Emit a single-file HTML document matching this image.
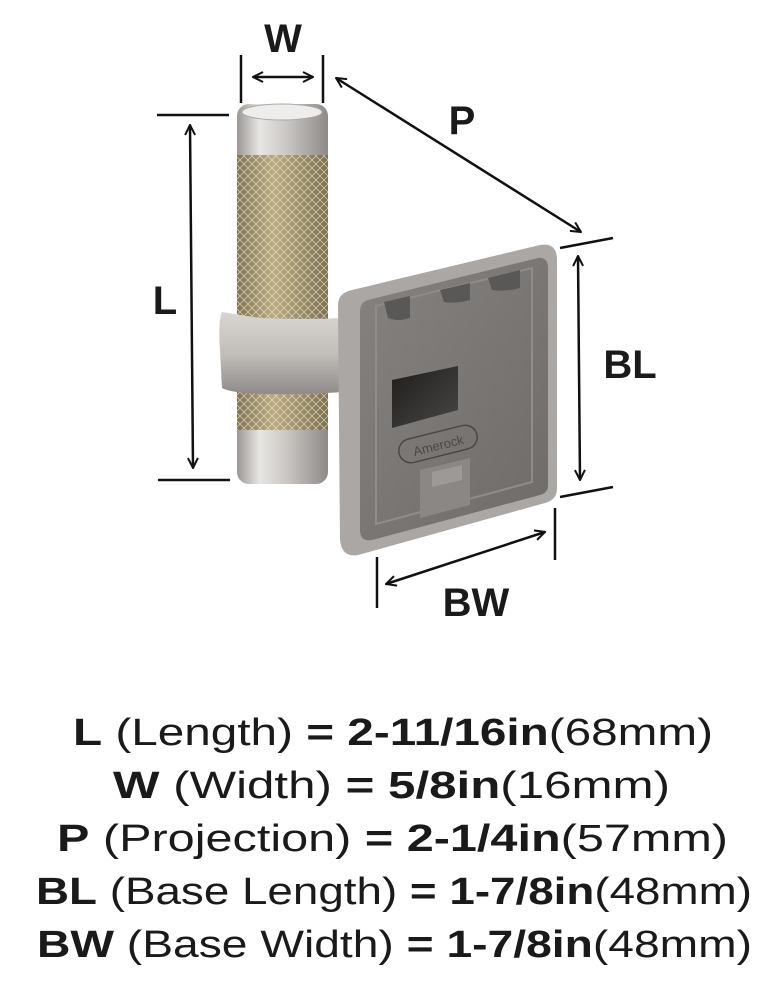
<!DOCTYPE html>
<html><head><meta charset="utf-8"><style>
html,body{margin:0;padding:0;background:#fff;}
svg{display:block;}
text{font-family:"Liberation Sans",sans-serif;fill:#1a1a1a;}
</style></head><body>
<svg width="784" height="990" viewBox="0 0 784 990" xmlns="http://www.w3.org/2000/svg">
<defs>
<linearGradient id="chrome" x1="0" x2="1" y1="0" y2="0">
<stop offset="0" stop-color="#9a9794"/><stop offset="0.25" stop-color="#e8e6e4"/><stop offset="0.55" stop-color="#c9c6c3"/><stop offset="1" stop-color="#8d8a87"/></linearGradient>
<linearGradient id="brass" x1="0" x2="1" y1="0" y2="0">
<stop offset="0" stop-color="#7f7456"/><stop offset="0.4" stop-color="#b9ab82"/><stop offset="1" stop-color="#7a6f52"/></linearGradient>
<pattern id="knurl" width="8" height="8" patternUnits="userSpaceOnUse">
<path d="M0 0L8 8M8 0L0 8" stroke="#efe6c8" stroke-width="0.8"/></pattern>
<linearGradient id="arm" x1="0" x2="0" y1="0" y2="1">
<stop offset="0" stop-color="#d9d6d2"/><stop offset="0.5" stop-color="#c2bfbb"/><stop offset="1" stop-color="#8e8b88"/></linearGradient>
<linearGradient id="plate" x1="0" x2="1" y1="0" y2="1">
<stop offset="0" stop-color="#858280"/><stop offset="1" stop-color="#6e6b69"/></linearGradient>
<linearGradient id="hole" x1="0" x2="1" y1="0" y2="1">
<stop offset="0" stop-color="#1e1d1c"/><stop offset="1" stop-color="#4a4846"/></linearGradient>
<marker id="ah" viewBox="0 0 12 12" refX="11" refY="6" markerWidth="12" markerHeight="12" orient="auto-start-reverse" markerUnits="userSpaceOnUse">
<path d="M1 1L11 6L1 11" fill="none" stroke="#111" stroke-width="2"/></marker>
</defs>

<rect x="237" y="104" width="91" height="380" rx="12" fill="url(#chrome)"/>
<ellipse cx="282" cy="112" rx="40" ry="8" fill="#efedeb" stroke="#aaa"/>
<rect x="237" y="155" width="91" height="275" fill="url(#brass)"/>
<rect x="237" y="155" width="91" height="275" fill="url(#knurl)" opacity="0.7"/>
<path d="M222 312 Q218 320 220 350 L222 388 Q240 398 345 392 L352 350 L345 318 Q300 320 260 318 Z" fill="url(#arm)"/>
<path d="M352 290 L540 245 Q557 242 557 260 L557 488 Q557 500 545 503 L358 555 Q342 558 340 540 L338 305 Q338 293 352 290 Z" fill="#aaa7a4"/>
<path d="M368 300 L538 258 Q548 257 548 268 L548 485 Q548 493 540 495 L372 540 Q360 542 360 530 L360 312 Q360 302 368 300 Z" fill="url(#plate)"/>
<path d="M376 306 L532 268 L532 482 L376 524 Z" fill="none" stroke="#8f8c89" stroke-width="2"/>
<path d="M384 302 L410 296 L410 318 Q398 322 388 318 Z" fill="#5a5856"/>
<path d="M440 290 L470 283 L470 300 Q455 304 444 302 Z" fill="#5a5856"/>
<path d="M488 278 L520 270 L520 288 Q505 292 492 290 Z" fill="#5a5856"/>
<path d="M392 380 L458 366 L458 410 L392 428 Z" fill="url(#hole)"/>
<path d="M420 470 L470 458 L470 505 L420 518 Z" fill="#8a8784"/>
<path d="M432 472 L462 465 L462 480 L432 487 Z" fill="#9c9996"/>
<rect x="398" y="432" width="80" height="24" rx="12" transform="rotate(-14 438 444)" fill="none" stroke="#4a4846" stroke-width="1.5"/>
<text x="438" y="450" font-size="13" text-anchor="middle" transform="rotate(-14 438 444)" style="fill:#4a4846">Amerock</text>

<g stroke="#111" stroke-width="2.5" fill="none">
<line x1="241" y1="55" x2="241" y2="103"/><line x1="323" y1="55" x2="323" y2="103"/>
<line x1="253" y1="77" x2="313" y2="77" marker-start="url(#ah)" marker-end="url(#ah)"/>
<line x1="157" y1="115" x2="229" y2="115"/><line x1="158" y1="480" x2="230" y2="480"/>
<line x1="190" y1="125" x2="193" y2="468" marker-start="url(#ah)" marker-end="url(#ah)"/>
<line x1="336" y1="78" x2="581" y2="232" marker-start="url(#ah)" marker-end="url(#ah)"/>
<line x1="560" y1="248" x2="613" y2="238"/><line x1="560" y1="497" x2="613" y2="487"/>
<line x1="578" y1="256" x2="580" y2="480" marker-start="url(#ah)" marker-end="url(#ah)"/>
<line x1="377" y1="557" x2="377" y2="608"/><line x1="555" y1="508" x2="555" y2="560"/>
<line x1="386" y1="584" x2="545" y2="532" marker-start="url(#ah)" marker-end="url(#ah)"/>
</g>
<g font-size="40" font-weight="bold" text-anchor="middle">
<text x="283" y="52">W</text>
<text x="165" y="314">L</text>
<text x="462" y="134">P</text>
<text x="630" y="378">BL</text>
<text x="476" y="616">BW</text>
</g>

<g font-size="38">
<text x="73" y="745" textLength="640" lengthAdjust="spacingAndGlyphs"><tspan font-weight="bold">L</tspan> (Length) <tspan font-weight="bold">= 2-11/16in</tspan>(68mm)</text>
<text x="113" y="798" textLength="557" lengthAdjust="spacingAndGlyphs"><tspan font-weight="bold">W</tspan> (Width) <tspan font-weight="bold">= 5/8in</tspan>(16mm)</text>
<text x="57" y="851" textLength="671" lengthAdjust="spacingAndGlyphs"><tspan font-weight="bold">P</tspan> (Projection) <tspan font-weight="bold">= 2-1/4in</tspan>(57mm)</text>
<text x="36" y="904" textLength="716" lengthAdjust="spacingAndGlyphs"><tspan font-weight="bold">BL</tspan> (Base Length) <tspan font-weight="bold">= 1-7/8in</tspan>(48mm)</text>
<text x="37" y="957" textLength="715" lengthAdjust="spacingAndGlyphs"><tspan font-weight="bold">BW</tspan> (Base Width) <tspan font-weight="bold">= 1-7/8in</tspan>(48mm)</text>
</g>
</svg>
</body></html>
